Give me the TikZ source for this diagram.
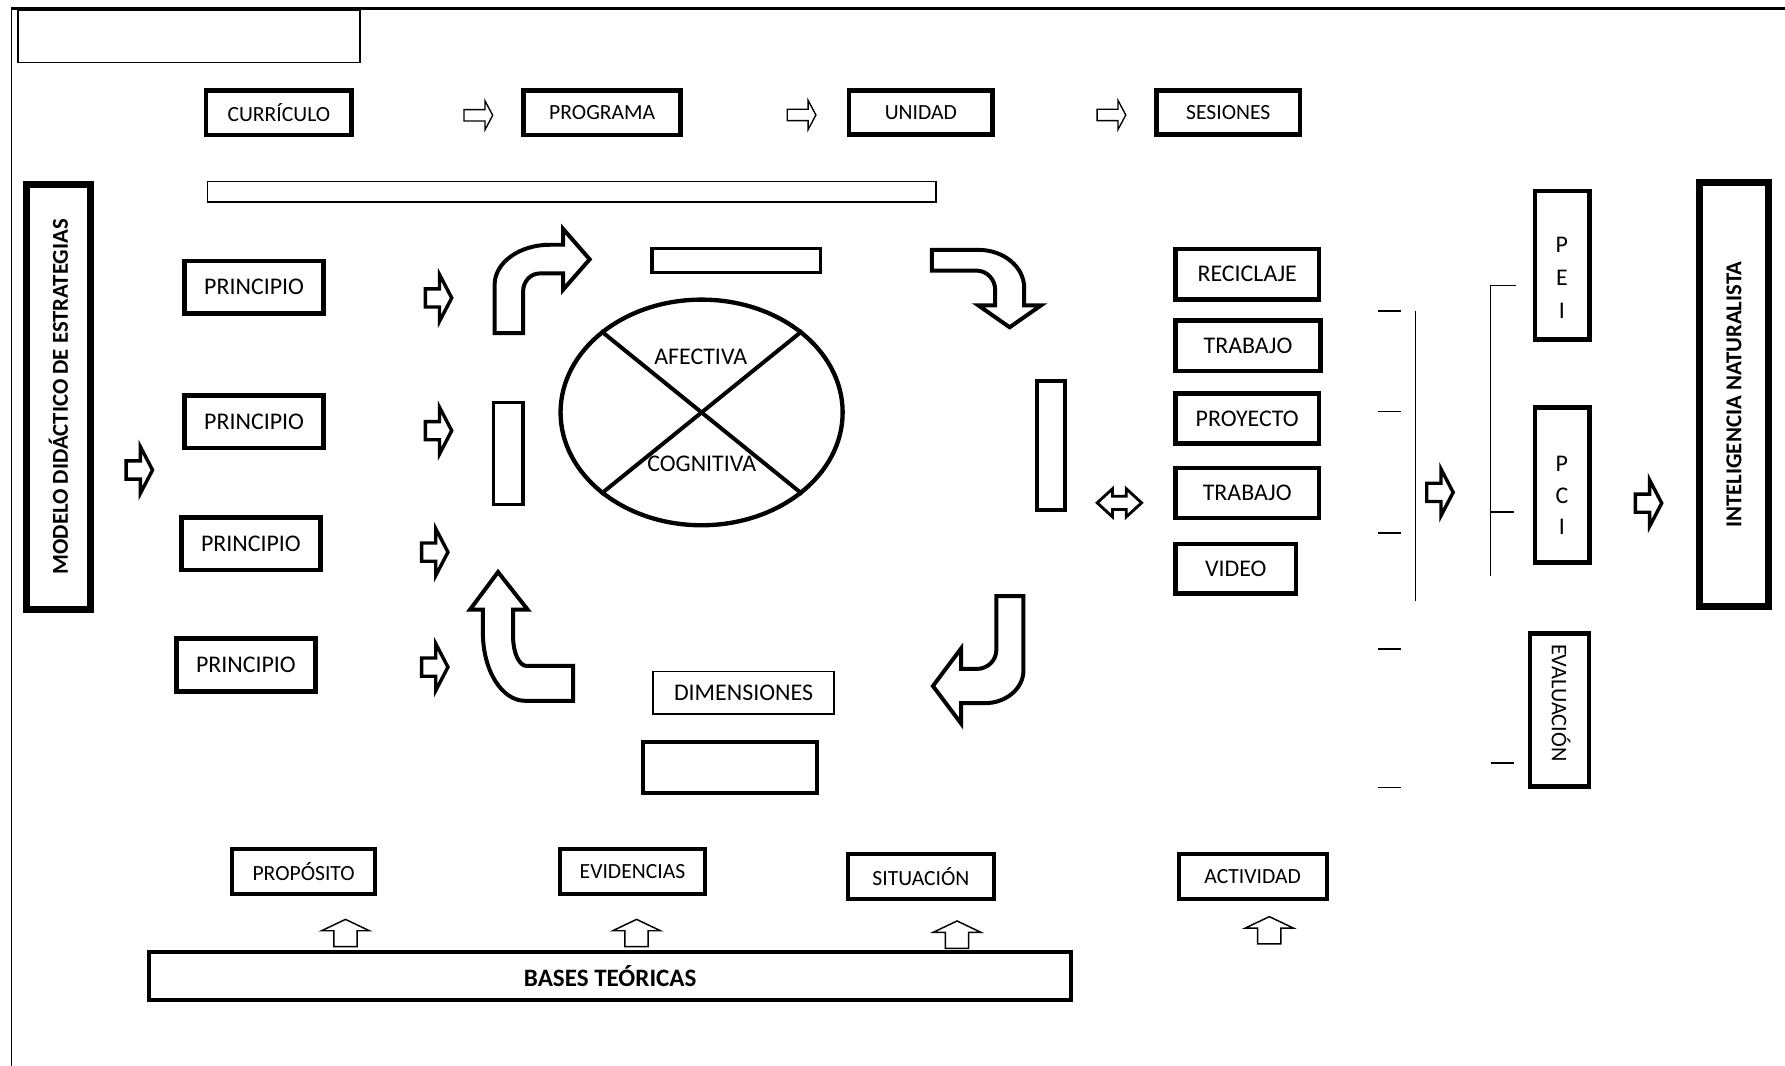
\documentclass[tikz,border=0pt]{standalone}
\usepackage{fontspec}
\setmainfont{Carlito}
\usetikzlibrary{shapes.geometric}
\newcommand{\fsz}[1]{\fontsize{#1}{#1}\selectfont}
\tikzset{
  box/.style={draw, line width=4, inner sep=0, font=\fsz{21}},
  rowbox/.style={draw, line width=3.5, inner sep=0, font=\fsz{19}},
  bigbox/.style={draw, line width=6, inner sep=0, font=\bfseries\fsz{20}},
  thinbox/.style={draw, line width=1.3, inner sep=0, font=\fsz{21}},
  txt/.style={inner sep=0, font=\fsz{21}},
  bent/.style={draw, line width=3.5, line join=miter},
  tick/.style={line width=1.3},
  pics/fatarrow/.style={code={
    \draw[line width=3] (1.5,-8) -- (14,-8) -- (14,-20.5) -- (24.7,0) -- (14,20.5) -- (14,8) -- (1.5,8) -- cycle;}},
  pics/thinarrow/.style={code={
    \draw[line width=1.2] (0.6,-5) -- (19,-5) -- (19,-12.8) -- (25.8,0) -- (19,12.8) -- (19,5) -- (0.6,5) -- cycle;}},
  pics/uparrow/.style={code={
    \draw[line width=1.3] (-10.2,0) -- (-10.2,-14) -- (-21,-14) -- (0,-24) -- (21,-14) -- (10.2,-14) -- (10.2,0) -- cycle;}},
  pics/twinarrow/.style={code={
    \draw[line width=2.5] (-19.5,0) -- (-6,-12.4) -- (-6,-5.8) -- (6,-5.8) -- (6,-12.4) -- (19.5,0)
      -- (6,12.4) -- (6,5.8) -- (-6,5.8) -- (-6,12.4) -- cycle;}}
}
\begin{document}
\begin{tikzpicture}[x=1pt,y=-1pt]
  \useasboundingbox (0,0) rectangle (1568,936);
  \draw[line width=2.5] (10.1,7.3) -- (1568,7.3);
  \draw[line width=1.5] (10.1,7.3) -- (10.1,936);
  \node[thinbox, minimum width=300.3, minimum height=45.5] (title) at (165.9,32.2) {};

  \node[box, font=\fsz{19}, minimum width=128, minimum height=39] (curriculo) at (245,99.1) {CURRÍCULO};
  \node[box, font=\fsz{19}, minimum width=138, minimum height=39] (programa) at (529,99.1) {PROGRAMA};
  \node[box, font=\fsz{19}, minimum width=126, minimum height=38.4] (unidad) at (808.9,98.8) {UNIDAD};
  \node[box, font=\fsz{19}, minimum width=126, minimum height=38.4] (sesiones) at (1078.9,98.8) {SESIONES};
  \pic (ta1) at (407,101.3) {thinarrow};
  \pic (ta2) at (690.9,101) {thinarrow};
  \pic (ta3) at (963.1,101) {thinarrow};

  \node[draw, line width=1.5, minimum width=640, minimum height=17.9] (banda) at (502.2,168.5) {};

  \node[bigbox, rotate=90, minimum width=373, minimum height=56.2] (modelo) at (51.3,348.6) {MODELO DIDÁCTICO DE ESTRATEGIAS};
  \pic (fa0) at (109.3,412.9) {fatarrow};

  \node[box, minimum width=122, minimum height=46] (prin1) at (223.2,252.2) {PRINCIPIO};
  \node[box, minimum width=122, minimum height=46] (prin2) at (223.2,370.5) {PRINCIPIO};
  \node[box, minimum width=122, minimum height=46] (prin3) at (220.4,477.8) {PRINCIPIO};
  \node[box, minimum width=122, minimum height=46.5] (prin4) at (216,584.2) {PRINCIPIO};
  \pic (fa1) at (372.1,261.7) {fatarrow};
  \pic (fa2) at (372.1,378.3) {fatarrow};
  \pic (fa3) at (368.8,485) {fatarrow};
  \pic (fa4) at (368.8,586) {fatarrow};

  \node[draw, ellipse, line width=3.8, inner sep=0, minimum width=247.8, minimum height=198.2] (dims) at (616.3,362.3) {};
  \draw[line width=3.5] (dims.141) -- (dims.321);
  \draw[line width=3.5] (dims.39) -- (dims.219);
  \node[txt] (afectiva) at (615.6,313.5) {AFECTIVA};
  \node[txt] (cognitiva) at (616.4,407) {COGNITIVA};

  \node[draw, line width=3, minimum width=148, minimum height=21] (rtop) at (646.8,228.7) {};
  \node[draw, line width=3, minimum width=26, minimum height=89.3] (rleft) at (446.3,398.3) {};
  \node[draw, line width=3.5, minimum width=24.2, minimum height=113.2] (rright) at (923.4,391.4) {};
  \node[thinbox, minimum width=159, minimum height=37.3] (dimen) at (653.1,608.5) {DIMENSIONES};
  \node[draw, line width=3.5, minimum width=153, minimum height=44.5] (rbottom) at (641.1,674.4) {};

  \path[bent] (434.5,292.7) -- (459.5,292.7) -- (459.5,256) .. controls (459.5,247.3) and (466,240.2) .. (474,240.2)
    -- (494.6,240.2) -- (494.6,254.5) -- (518,227.8) -- (494.6,201) -- (494.6,215) -- (483,215)
    .. controls (456.2,215) and (434.5,230.7) .. (434.5,250) -- cycle;
  \path[bent] (818.5,219.5) -- (859.6,219.5) .. controls (881.7,219.5) and (899.7,234.5) .. (899.7,253)
    -- (899.7,268.2) -- (914.5,268.2) -- (886.9,287.5) -- (859.3,268.2) -- (874.2,268.2) -- (874.2,254.7)
    .. controls (874.2,245.3) and (866.8,237.7) .. (857.8,237.7) -- (818.5,237.7) -- cycle;
  \path[bent] (875.2,523.7) -- (899,523.7) -- (899,589) .. controls (899,604.8) and (883.8,617.7) .. (865,617.7)
    -- (844.2,617.7) -- (844.2,635.5) -- (819.5,602.6) -- (844.2,569.7) -- (844.2,587.6) -- (858,587.6)
    .. controls (867.5,587.6) and (875.2,580.2) .. (875.2,571) -- cycle;
  \path[bent] (503.4,585) -- (503.4,615.6) -- (461.2,615.6) .. controls (440.8,615.6) and (424.2,588.9) .. (424.2,556)
    -- (424.2,535.6) -- (412.8,535.6) -- (437.5,502.5) -- (463.6,535.6) -- (450.7,535.6) -- (450.7,559.3)
    .. controls (450.7,573.5) and (456.1,585) .. (462.7,585) -- cycle;

  \pic (tw) at (983.3,441.7) {twinarrow};

  \node[box, minimum width=125.7, minimum height=44.4] (reciclaje) at (1095.6,240.9) {RECICLAJE};
  \node[box, minimum width=127.3, minimum height=44.4] (trabajo1) at (1096.3,303.6) {TRABAJO};
  \node[box, minimum width=125.7, minimum height=44] (proyecto) at (1095.6,367.5) {PROYECTO};
  \node[box, minimum width=125.7, minimum height=44] (trabajo2) at (1095.6,433) {TRABAJO};
  \node[box, minimum width=105.9, minimum height=43.4] (video) at (1085.6,499.7) {VIDEO};

  \foreach \y in {273.1,361.6,468,570,691.9}
    \draw[tick] (1210.6,\y) -- (1230.4,\y);
  \draw[tick] (1243.6,273.1) -- (1243.6,528.1);
  \pic (fa5) at (1251.8,432.5) {fatarrow};
  \draw[tick] (1309.5,250.6) -- (1309.5,506.2);
  \draw[tick] (1309.5,250.6) -- (1332.1,250.6);
  \draw[tick] (1309.5,449.8) -- (1330,449.8);
  \draw[tick] (1309.5,670.2) -- (1330,670.2);

  \node[box, minimum width=47.5, minimum height=130.7] (pei) at (1372.3,233) {};
  \node[txt, align=center, font={\fontsize{21}{29.2}\selectfont}] (peit) at (1372,244) {P\\E\\I};
  \node[box, minimum width=47.5, minimum height=135.8] (pci) at (1372.3,426.1) {};
  \node[txt, align=center, font={\fontsize{21}{28}\selectfont}] (pcit) at (1372,435.2) {P\\C\\I};
  \node[box, minimum width=52, minimum height=134.8] (eval) at (1370,623.7) {};
  \node[txt, rotate=-90, font=\fsz{19.6}] (evalt) at (1371.2,617.4) {EVALUACIÓN};

  \pic (fa6) at (1435,442) {fatarrow};
  \node[bigbox, rotate=90, minimum width=372.8, minimum height=60.8] (natural) at (1523.2,346.7) {INTELIGENCIA NATURALISTA};

  \node[rowbox, minimum width=125, minimum height=40] (proposito) at (266.7,765.4) {PROPÓSITO};
  \node[rowbox, minimum width=127.3, minimum height=40] (evidencias) at (555.6,765.4) {EVIDENCIAS};
  \node[rowbox, minimum width=127.5, minimum height=39.6] (situacion) at (809,769.7) {SITUACIÓN};
  \node[rowbox, minimum width=129.8, minimum height=39.6] (actividad) at (1100.4,769.7) {ACTIVIDAD};
  \pic (ua1) at (303.5,831.6) {uparrow};
  \pic (ua2) at (559.2,831.6) {uparrow};
  \pic (ua3) at (840.7,833) {uparrow};
  \pic (ua4) at (1115,829.2) {uparrow};
  \node[rowbox, font=\bfseries\fsz{22}, minimum width=809.8, minimum height=41.9] (bases) at (536,857.2) {BASES TEÓRICAS};
\end{tikzpicture}
\end{document}
